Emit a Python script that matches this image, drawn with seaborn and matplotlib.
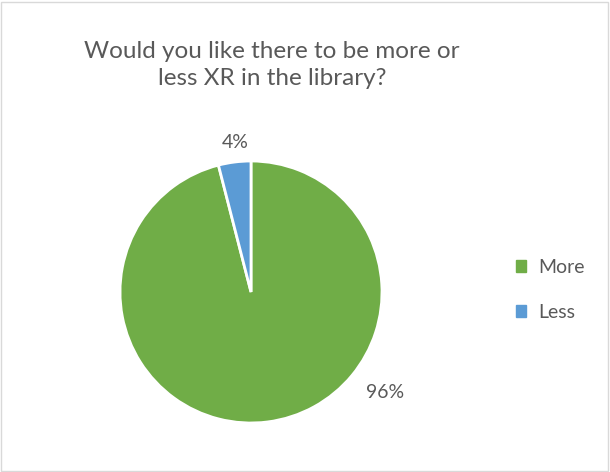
import numpy as np
import matplotlib
matplotlib.use("Agg")
import matplotlib.pyplot as plt
import seaborn as sns
from matplotlib.patches import Rectangle

# --------------------------------------------------------------------------
LABELS = ["More", "Less"]
SHARES = [96, 4]
COLORS = ["#70AD47", "#5B9BD5"]
TITLE = "Would you like there to be more or\nless XR in the library?"
# --------------------------------------------------------------------------

sns.set_theme(style="white")
plt.rcParams["font.family"] = ["Lato", "DejaVu Sans"]
TXT = "#595959"

W, H = 610, 472
fig = plt.figure(figsize=(W / 100, H / 100), dpi=100)
fig.patch.set_facecolor("white")
fig.patches.append(Rectangle((1 / W, 1 / H), 1 - 3 / W, 1 - 3 / H, transform=fig.transFigure,
                             fill=False, edgecolor="#D9D9D9", lw=1))

# pie centred at (251, 292) px, radius 131 px
cx, cy, r = 251, H - 292, 131
ax = fig.add_axes([(cx - r) / W, (cy - r) / H, 2 * r / W, 2 * r / H])
wedges, texts, autotexts = ax.pie(SHARES, colors=COLORS, startangle=90, counterclock=False,
                                  autopct="%1.0f%%", pctdistance=1.13,
                                  wedgeprops=dict(edgecolor="white", linewidth=2),
                                  textprops=dict(color=TXT, fontsize=14))
ax.set_xlim(-1, 1)
ax.set_ylim(-1, 1)
# Excel "best fit" puts the large label off to the lower right
autotexts[0].set_position((1.02, -0.77))
autotexts[1].set_position((-0.12, 1.14))

fig.text(272 / W, 1 - 65 / H, TITLE, ha="center", va="center", fontsize=17.5,
         color=TXT, linespacing=1.3)

handles = [plt.Rectangle((0, 0), 1, 1, color=c) for c in COLORS]
fig.legend(handles, LABELS, loc="center left", bbox_to_anchor=(498 / W, 1 - 290 / H),
           frameon=False, fontsize=14, labelcolor=TXT, handlelength=0.55, handleheight=0.55,
           handletextpad=0.6, labelspacing=1.45)

plt.savefig("out.png", dpi=100)
plt.close()
